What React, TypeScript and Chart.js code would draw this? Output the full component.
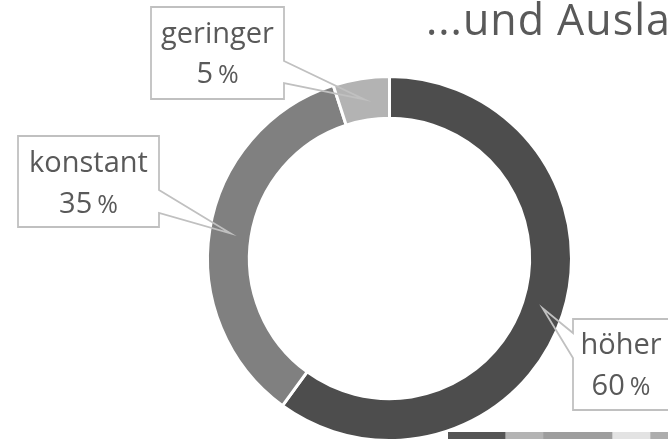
import React, { useEffect, useRef } from "react";
import { Chart, registerables } from "chart.js";

Chart.register(...registerables);

const categories = ["höher", "konstant", "geringer"];
const shares = [60, 35, 5];
const sliceColors = ["#4d4d4d", "#808080", "#b3b3b3"];
const titleText = "...und Ausland";

const calloutBoxes = [
  { left: 573, top: 319, right: 669, bottom: 410, side: "left", w1: 333, w2: 358, l1: 35, l2: 76 },
  { left: 18, top: 136, right: 159, bottom: 227, side: "right", w1: 190, w2: 213, l1: 36, l2: 77 },
  { left: 151, top: 7, right: 284, bottom: 99, side: "right", w1: 61, w2: 83, l1: 36, l2: 76 },
];

const stripValues = [57, 38, 69, 38, 18];
const stripColors = ["#555555", "#b4b4b4", "#9e9e9e", "#e3e3e3", "#adadad"];

const FONT = "'Open Sans', 'Noto Sans', sans-serif";
const TEXT_COLOR = "#595959";

const calloutPlugin = {
  id: "callouts",
  afterDraw(chart: any) {
    const ctx = chart.ctx as CanvasRenderingContext2D;
    const meta = chart.getDatasetMeta(0);
    ctx.save();
    ctx.fillStyle = TEXT_COLOR;
    ctx.font = `43px ${FONT}`;
    ctx.textAlign = "left";
    ctx.textBaseline = "alphabetic";
    (ctx as any).letterSpacing = "1px";
    ctx.fillText(titleText, 426, 35);
    (ctx as any).letterSpacing = "0px";

    meta.data.forEach((arc: any, i: number) => {
      const b = calloutBoxes[i];
      const tip = arc.tooltipPosition(false);
      ctx.fillStyle = "#ffffff";
      ctx.fillRect(b.left, b.top, b.right - b.left, b.bottom - b.top);
      ctx.beginPath();
      if (b.side === "right") {
        ctx.moveTo(b.left, b.top);
        ctx.lineTo(b.right, b.top);
        ctx.lineTo(b.right, b.w1);
        ctx.lineTo(tip.x, tip.y);
        ctx.lineTo(b.right, b.w2);
        ctx.lineTo(b.right, b.bottom);
        ctx.lineTo(b.left, b.bottom);
        ctx.closePath();
      } else {
        ctx.moveTo(b.left, b.top);
        ctx.lineTo(b.right, b.top);
        ctx.lineTo(b.right, b.bottom);
        ctx.lineTo(b.left, b.bottom);
        ctx.lineTo(b.left, b.w2);
        ctx.lineTo(tip.x, tip.y);
        ctx.lineTo(b.left, b.w1);
        ctx.closePath();
      }
      ctx.strokeStyle = "#c0c0c0";
      ctx.lineWidth = 1.8;
      ctx.lineJoin = "miter";
      ctx.stroke();

      const cx = (b.left + b.right) / 2;
      ctx.fillStyle = TEXT_COLOR;
      ctx.textAlign = "center";
      ctx.font = `29px ${FONT}`;
      ctx.fillText(categories[i], cx, b.top + b.l1);

      const num = String(shares[i]);
      ctx.font = `29px ${FONT}`;
      const wNum = ctx.measureText(num).width;
      ctx.font = `25px ${FONT}`;
      const wPct = ctx.measureText("%").width;
      const gap = 5;
      const x0 = cx - (wNum + gap + wPct) / 2;
      ctx.textAlign = "left";
      ctx.font = `29px ${FONT}`;
      ctx.fillText(num, x0, b.top + b.l2);
      ctx.font = `25px ${FONT}`;
      ctx.fillText("%", x0 + wNum + gap, b.top + b.l2);
    });
    ctx.restore();
  },
};

export default function App() {
  const donutRef = useRef<HTMLCanvasElement>(null);
  const stripRef = useRef<HTMLCanvasElement>(null);

  useEffect(() => {
    const donut = new Chart(donutRef.current as HTMLCanvasElement, {
      type: "doughnut",
      data: {
        labels: categories,
        datasets: [
          {
            data: shares,
            backgroundColor: sliceColors,
            borderColor: "#ffffff",
            borderWidth: 3,
            hoverOffset: 0,
          },
        ],
      },
      options: {
        responsive: false,
        animation: false,
        cutout: "77%",
        layout: { padding: { left: 206, right: 95, top: 75, bottom: 19 } },
        plugins: { legend: { display: false }, tooltip: { enabled: false } },
        events: [],
      },
      plugins: [calloutPlugin],
    } as any);

    const strip = new Chart(stripRef.current as HTMLCanvasElement, {
      type: "bar",
      data: {
        labels: [""],
        datasets: stripValues.map((v, i) => ({
          data: [v],
          backgroundColor: stripColors[i],
          borderWidth: 0,
          barPercentage: 1,
          categoryPercentage: 1,
        })),
      },
      options: {
        indexAxis: "y",
        responsive: false,
        animation: false,
        layout: { padding: 0 },
        plugins: { legend: { display: false }, tooltip: { enabled: false } },
        scales: {
          x: { stacked: true, display: false, min: 0, max: 220 },
          y: { stacked: true, display: false },
        },
        events: [],
      },
    } as any);

    return () => {
      donut.destroy();
      strip.destroy();
    };
  }, []);

  return (
    <div
      style={{
        position: "absolute",
        left: 0,
        top: 0,
        width: 668,
        height: 439,
        overflow: "hidden",
        background: "#ffffff",
      }}
    >
      <canvas
        ref={donutRef}
        width={668}
        height={461}
        style={{ position: "absolute", left: 0, top: 0, width: 668, height: 461, display: "block" }}
      />
      <canvas
        ref={stripRef}
        width={220}
        height={7}
        style={{ position: "absolute", left: 448, top: 432, width: 220, height: 7, display: "block" }}
      />
    </div>
  );
}
